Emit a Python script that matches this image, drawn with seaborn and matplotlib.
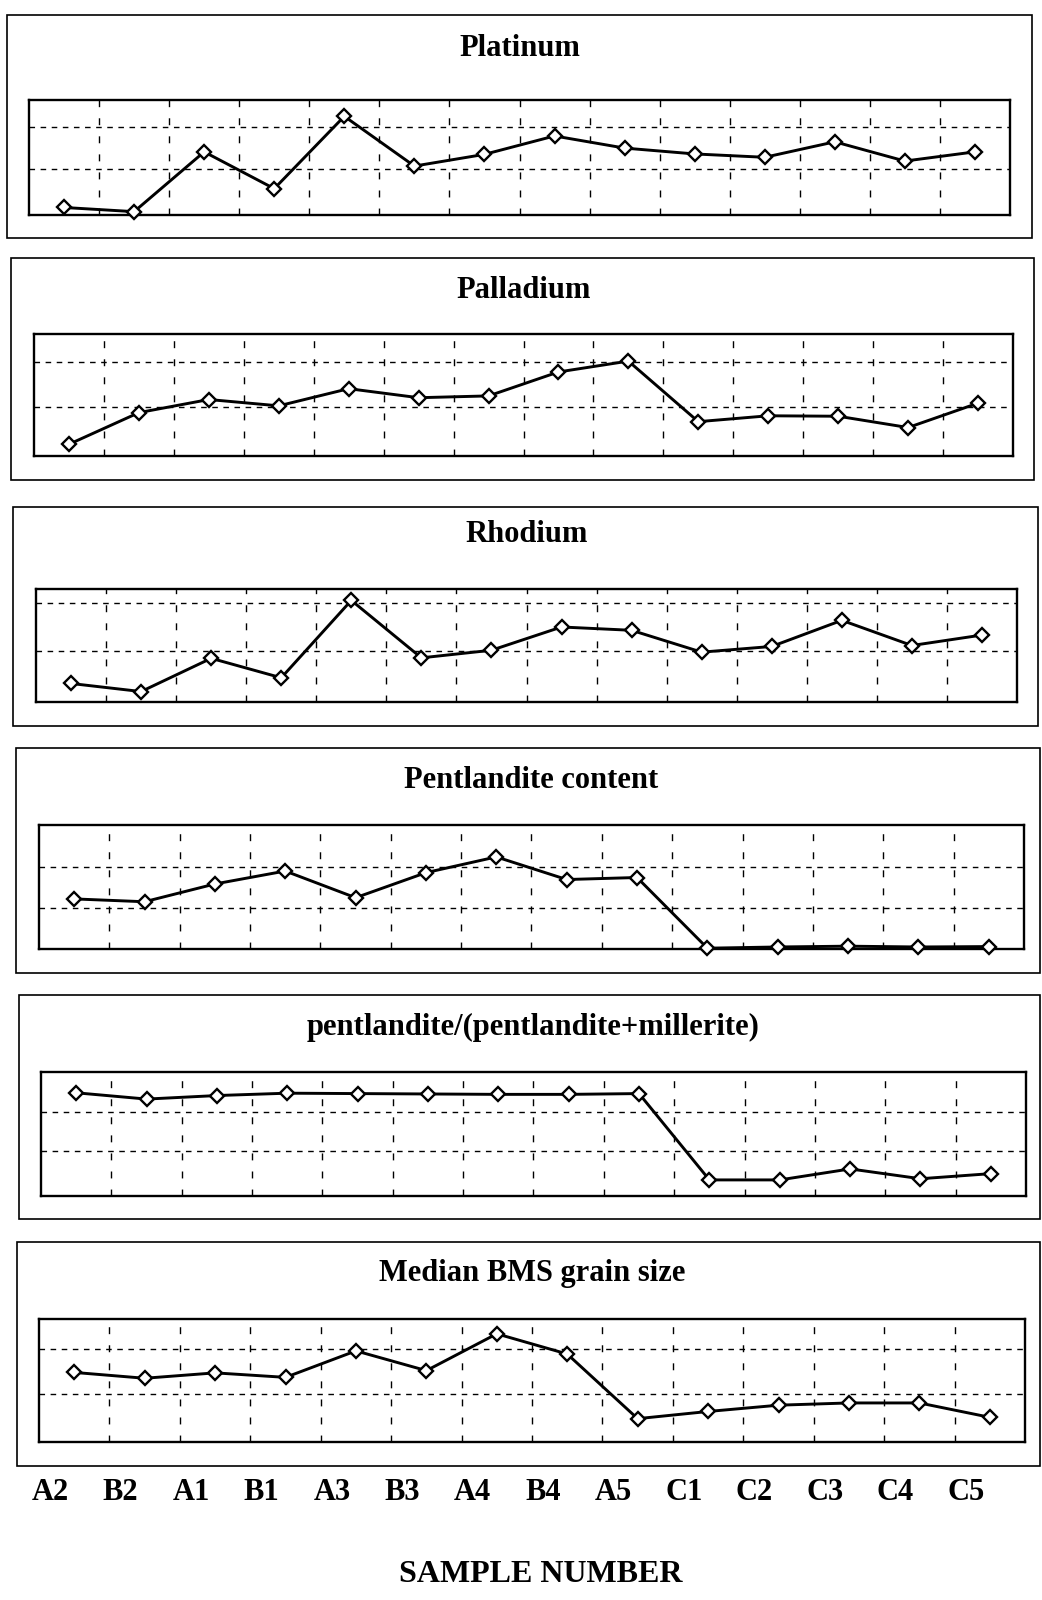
import numpy as np
import pandas as pd
import matplotlib
matplotlib.use("Agg")
import matplotlib.pyplot as plt
import matplotlib.patches as mpatches
from matplotlib.transforms import ScaledTranslation
import seaborn as sns

# Sample order along the traverse
samples = ["A2", "B2", "A1", "B1", "A3", "B3", "A4", "B4", "A5",
           "C1", "C2", "C3", "C4", "C5"]

# Relative values per sample (one unit = one grid interval)
platinum = [0.08, -0.02, 1.41, 0.53, 2.26, 1.07, 1.35, 1.79, 1.50, 1.36, 1.28, 1.65, 1.19, 1.41]
palladium = [0.18, 0.88, 1.17, 1.03, 1.41, 1.21, 1.25, 1.78, 2.02, 0.68, 0.81, 0.80, 0.55, 1.09]
rhodium = [0.31, 0.14, 0.84, 0.43, 2.06, 0.85, 1.01, 1.50, 1.43, 0.97, 1.09, 1.64, 1.11, 1.33]
pentlandite = [1.22, 1.15, 1.59, 1.91, 1.25, 1.87, 2.26, 1.70, 1.75, 0.00, 0.03, 0.05, 0.03, 0.04]
pn_ratio = [2.49, 2.33, 2.42, 2.48, 2.47, 2.46, 2.45, 2.45, 2.47, 0.27, 0.27, 0.55, 0.30, 0.43]
bms_size = [1.47, 1.34, 1.46, 1.36, 1.95, 1.51, 2.33, 1.88, 0.44, 0.60, 0.74, 0.79, 0.79, 0.47]

titles = ["Platinum", "Palladium", "Rhodium", "Pentlandite content",
          "pentlandite/(pentlandite+millerite)", "Median BMS grain size"]
series = [platinum, palladium, rhodium, pentlandite, pn_ratio, bms_size]
y_ranges = [(-0.10, 2.65), (-0.08, 2.62), (-0.08, 2.30),
            (-0.02, 3.05), (-0.14, 3.02), (-0.08, 2.66)]

# Panel geometry in pixels: outer frame, inner plot box, title row
outer_px = [(7, 15, 1032, 238), (11, 258, 1034, 480), (13, 507, 1038, 726),
            (16, 748, 1040, 973), (19, 995, 1040, 1219), (17, 1242, 1040, 1466)]
inner_px = [(29, 100, 1010, 215), (34, 334, 1013, 456), (36, 589, 1017, 702),
            (39, 825, 1024, 949), (41, 1072, 1026, 1196), (39, 1319, 1025, 1442)]
title_y = [48, 290, 534, 781, 1027, 1274]

W, H = 1042, 1600
sns.set_style("white")
plt.rcParams["font.family"] = ["Liberation Serif", "DejaVu Serif"]
plt.rcParams["font.weight"] = "bold"
plt.rcParams["text.color"] = "black"
plt.rcParams["xtick.color"] = "black"

fig = plt.figure(figsize=(W / 100, H / 100), dpi=100)
fig.patch.set_facecolor("white")

x_pos = np.arange(len(samples))
axes = []
for i in range(6):
    ox0, oy0, ox1, oy1 = outer_px[i]
    frame = mpatches.Rectangle((ox0 / W, 1 - oy1 / H), (ox1 - ox0) / W, (oy1 - oy0) / H,
                               transform=fig.transFigure, fill=False,
                               edgecolor="black", linewidth=1.2)
    fig.patches.append(frame)

    x0, y0, x1, y1 = inner_px[i]
    ax = fig.add_axes([x0 / W, 1 - y1 / H, (x1 - x0) / W, (y1 - y0) / H])
    axes.append(ax)

    df = pd.DataFrame({"pos": x_pos, "value": series[i]})
    sns.lineplot(data=df, x="pos", y="value", ax=ax, sort=False,
                 color="black", linewidth=2.1, marker="D", markersize=7.0,
                 markerfacecolor="white", markeredgecolor="black",
                 markeredgewidth=1.7, clip_on=False, zorder=5)

    ax.set_xlim(-0.5, len(samples) - 0.5)
    ax.set_ylim(*y_ranges[i])
    ax.set_yticks([1, 2])
    ax.set_xticks(x_pos)
    ax.set_xticks(np.arange(0.5, len(samples) - 1, 1.0), minor=True)
    ax.grid(False)
    ax.grid(True, which="major", axis="y", color="black",
            linewidth=1.0, linestyle=(0, (4, 4)))
    ax.grid(True, which="minor", axis="x", color="black",
            linewidth=1.0, linestyle=(0, (5, 8)))
    ax.tick_params(axis="both", which="both", length=0,
                   labelleft=False, labelbottom=False)
    ax.set_xlabel("")
    ax.set_ylabel("")
    for sp in ax.spines.values():
        sp.set_visible(True)
        sp.set_color("black")
        sp.set_linewidth(1.7)

    fig.text(((x0 + x1) / 2) / W, 1 - title_y[i] / H, titles[i],
             ha="center", va="center", fontsize=22, fontweight="bold",
             color="black")

# Sample names under the last panel
bottom_ax = axes[-1]
bottom_ax.set_xticks(x_pos, samples)
bottom_ax.tick_params(axis="x", which="major", labelbottom=True,
                      labelsize=22, pad=26, labelcolor="black")
shift = ScaledTranslation(-24 / 100, 0, fig.dpi_scale_trans)
for lab in bottom_ax.get_xticklabels():
    lab.set_fontweight("bold")
    lab.set_transform(lab.get_transform() + shift)

fig.text(541 / W, 1 - 1575 / H, "SAMPLE NUMBER", ha="center", va="center",
         fontsize=23, fontweight="bold", color="black")

fig.savefig("out.png", dpi=100, facecolor="white")
